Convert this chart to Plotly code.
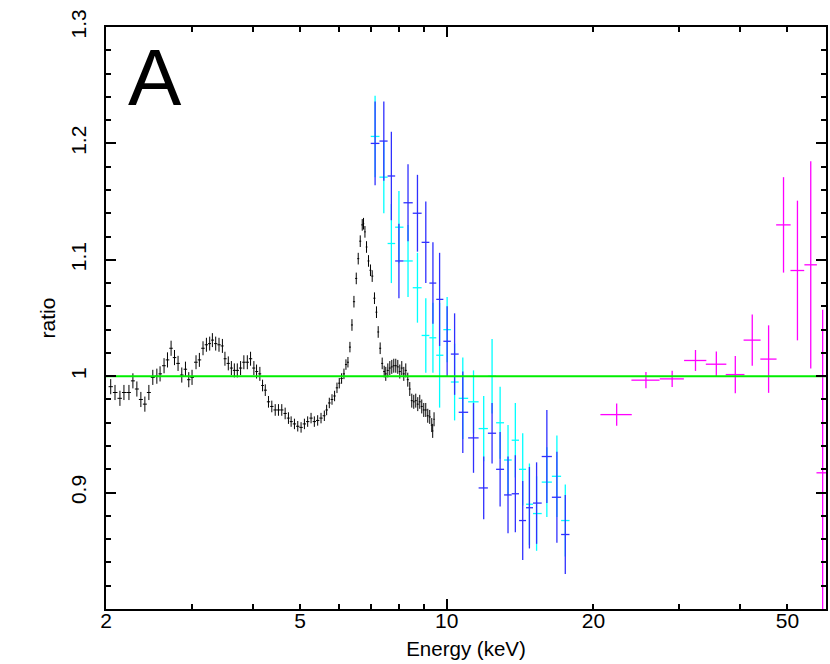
import numpy as np
import plotly.graph_objects as go

# black: low energy spectrum (keV, data/model ratio)
black_energy = [2.045, 2.087, 2.136, 2.177, 2.229, 2.271, 2.314, 2.358, 2.403, 2.449,
                2.495, 2.543, 2.582, 2.631, 2.674, 2.720, 2.764, 2.811, 2.861, 2.911,
                2.957, 3.003, 3.060, 3.109, 3.163, 3.214, 3.264, 3.306, 3.358, 3.411,
                3.466, 3.508, 3.564, 3.616, 3.667, 3.719, 3.777, 3.836, 3.899, 3.959,
                4.022, 4.073, 4.137, 4.190, 4.244, 4.309, 4.377, 4.448, 4.517, 4.588,
                4.662, 4.735, 4.795, 4.871, 4.948, 5.026, 5.106, 5.185, 5.269, 5.351,
                5.436, 5.523, 5.610, 5.671, 5.743, 5.817, 5.888, 5.955, 6.020, 6.086,
                6.155, 6.213, 6.272, 6.331, 6.392, 6.452, 6.523, 6.584, 6.647, 6.710,
                6.751, 6.796, 6.847, 6.911, 6.976, 7.033, 7.109, 7.177, 7.235, 7.303,
                7.373, 7.443, 7.499, 7.571, 7.643, 7.715, 7.788, 7.862, 7.937, 8.012,
                8.088, 8.165, 8.242, 8.320, 8.399, 8.479, 8.559, 8.640, 8.722, 8.805,
                8.888, 8.973, 9.058, 9.144, 9.230, 9.318, 9.360, 9.420]
black_ratio = [0.991, 0.986, 0.981, 0.986, 0.986, 0.996, 0.989, 0.980, 0.976, 0.986,
               0.999, 1.000, 1.002, 1.009, 1.014, 1.024, 1.016, 1.011, 1.001, 1.006,
               0.997, 0.999, 1.012, 1.014, 1.024, 1.027, 1.028, 1.031, 1.028, 1.027,
               1.026, 1.015, 1.011, 1.007, 1.005, 1.005, 1.007, 1.012, 1.012, 1.015,
               1.007, 1.004, 1.002, 0.992, 0.988, 0.978, 0.974, 0.971, 0.971, 0.971,
               0.968, 0.964, 0.961, 0.959, 0.957, 0.956, 0.959, 0.961, 0.964, 0.961,
               0.962, 0.964, 0.966, 0.971, 0.977, 0.980, 0.983, 0.990, 0.994, 0.998,
               1.002, 1.010, 1.012, 1.025, 1.044, 1.064, 1.084, 1.101, 1.116, 1.130,
               1.131, 1.124, 1.111, 1.099, 1.091, 1.086, 1.067, 1.055, 1.038, 1.024,
               1.011, 1.004, 1.002, 1.005, 1.007, 1.008, 1.009, 1.009, 1.008, 1.004,
               1.007, 1.002, 1.005, 0.997, 0.989, 0.979, 0.978, 0.979, 0.976, 0.978,
               0.974, 0.971, 0.971, 0.966, 0.965, 0.958, 0.953, 0.963]
black_err = ([0.0065] * 22 + [0.006] * 21 + [0.005] * 9 + [0.0045] * 22
             + [0.005] * 18 + [0.006] * 26)

# cyan / blue: two detectors sharing the same binning
mid_energy = [7.13, 7.43, 7.70, 7.98, 8.33, 8.71, 9.06, 9.37, 9.67, 10.02, 10.38, 10.79,
              11.35, 11.91, 12.39, 12.87, 13.36, 13.83, 14.32, 14.78, 15.29, 16.05, 16.83, 17.51]
cyan_ratio = [1.206, 1.171, 1.114, 1.128, 1.099, 1.076, 1.035, 1.033, 1.018, 1.040, 0.995, 0.981,
              0.978, 0.955, 1.000, 0.960, 0.928, 0.945, 0.920, 0.890, 0.882, 0.909, 0.914, 0.876]
cyan_err = [0.035, 0.031, 0.034, 0.031, 0.031, 0.030, 0.032, 0.030, 0.045, 0.028, 0.033, 0.035,
            0.027, 0.028, 0.032, 0.031, 0.030, 0.032, 0.031, 0.035, 0.032, 0.030, 0.035, 0.031]
blue_ratio = [1.200, 1.202, 1.172, 1.099, 1.149, 1.140, 1.115, 1.080, 1.066, 1.030, 1.019, 0.969,
              0.947, 0.904, 0.951, 0.920, 0.898, 0.899, 0.876, 0.887, 0.891, 0.931, 0.896, 0.864]
blue_err = [0.036, 0.034, 0.038, 0.032, 0.033, 0.033, 0.035, 0.035, 0.040, 0.030, 0.035, 0.035,
            0.030, 0.027, 0.026, 0.032, 0.033, 0.033, 0.034, 0.035, 0.035, 0.040, 0.039, 0.034]

# magenta: hard X-ray bins (energy, half-width, ratio, error)
hx_energy = [22.32, 25.63, 29.01, 32.39, 35.74, 39.09, 42.35, 45.75, 49.09, 52.43, 55.83, 59.06]
hx_halfw = [1.65, 1.70, 1.65, 1.70, 1.73, 1.73, 1.70, 1.75, 1.68, 1.70, 1.65, 1.70]
hx_ratio = [0.967, 0.9966, 0.9977, 1.0135, 1.0103, 1.0014, 1.031, 1.0147, 1.130, 1.0908, 1.0957, 0.917]
hx_err = [0.0096, 0.007, 0.007, 0.009, 0.011, 0.016, 0.022, 0.029, 0.041, 0.060, 0.089, 0.14]

model_energy = [2, 60]
model_ratio = [1.0, 1.0]


def half_widths(e):
    # bin half-widths from the geometric midpoints between neighbouring bins
    e = np.asarray(e)
    edges = np.sqrt(e[1:] * e[:-1])
    lo = np.concatenate([[e[0] ** 2 / edges[0]], edges])
    hi = np.concatenate([edges, [e[-1] ** 2 / edges[-1]]])
    return e - lo, hi - e


def add_spectrum(fig, x, y, yerr, color, xm, xp, width=1):
    fig.add_trace(go.Scatter(
        x=x, y=y, mode="markers", marker=dict(size=2, color=color, opacity=0),
        error_y=dict(type="data", array=yerr, color=color, thickness=width, width=0),
        error_x=dict(type="data", symmetric=False, array=xp, arrayminus=xm,
                     color=color, thickness=width, width=0),
        showlegend=False, hoverinfo="skip"))


fig = go.Figure()
bm, bp = half_widths(black_energy)
add_spectrum(fig, black_energy, black_ratio, black_err, "#000000", bm, bp, 1)
mm, mp = half_widths(mid_energy)
add_spectrum(fig, mid_energy, cyan_ratio, cyan_err, "#00ffff", mm, mp, 1.3)
add_spectrum(fig, mid_energy, blue_ratio, blue_err, "#3030ff", mm, mp, 1.3)
add_spectrum(fig, hx_energy, hx_ratio, hx_err, "#ff00ff", hx_halfw, hx_halfw, 1.3)

fig.add_trace(go.Scatter(x=model_energy, y=model_ratio, xaxis="x2", mode="lines",
                         line=dict(color="#00ee00", width=2), showlegend=False,
                         hoverinfo="skip"))

font = "Liberation Sans, Arial, sans-serif"
xr = [np.log10(2), np.log10(60)]
fig.update_layout(
    width=830, height=664,
    margin=dict(l=106, r=2, t=27, b=55),
    paper_bgcolor="white", plot_bgcolor="white",
    font=dict(family=font, color="black"),
    xaxis=dict(type="log", range=xr, showgrid=False, zeroline=False,
               showline=True, linecolor="black", linewidth=1.5, mirror="ticks",
               ticks="inside", ticklen=5, tickwidth=1.5, tickcolor="black",
               tickvals=[2, 5, 10, 20, 50], ticktext=["2", "5", "10", "20", "50"],
               tickfont=dict(size=21), ticklabelstandoff=-8,
               minor=dict(tickvals=[3, 4, 6, 7, 8, 9, 30, 40], ticks="inside",
                          ticklen=5, tickwidth=1.5, tickcolor="black", showgrid=False),
               title=dict(text="Energy (keV)", font=dict(size=20.5), standoff=11)),
    xaxis2=dict(type="log", range=xr, overlaying="x", side="bottom",
                showgrid=False, zeroline=False, showline=False, mirror="ticks",
                ticks="inside", ticklen=10, tickwidth=1.5, tickcolor="black",
                tickvals=[10], showticklabels=False),
    yaxis=dict(range=[0.8, 1.3], showgrid=False, zeroline=False,
               showline=True, linecolor="black", linewidth=1.5, mirror="ticks",
               ticks="inside", ticklen=10, tickwidth=1.5, tickcolor="black",
               tickvals=[0.8, 0.9, 1.0, 1.1, 1.2, 1.3],
               ticktext=["", "0.9", "1", "1.1", "1.2", "1.3"],
               tickangle=-90, tickfont=dict(size=21), ticklabelstandoff=10,
               minor=dict(dtick=0.02, tick0=0.8, ticks="inside", ticklen=5,
                          tickwidth=1.5, tickcolor="black", showgrid=False),
               title=dict(text="ratio", font=dict(size=21), standoff=5)),
    annotations=[dict(text="A", x=0.0686, y=0.913, xref="paper", yref="paper",
                      xanchor="center", yanchor="middle", showarrow=False,
                      font=dict(size=80, family=font, color="black"))],
)

# page body has a default 8px margin; drop it so the 830x664 figure fills the window
fig.write_html("out.html", config={"displayModeBar": False},
               post_script="document.body.style.margin='0';document.body.style.overflow='hidden';")
